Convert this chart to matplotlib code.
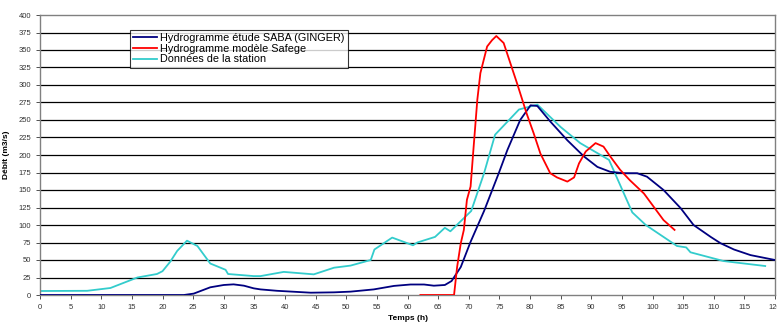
import matplotlib
matplotlib.use("Agg")
import matplotlib.pyplot as plt

plt.rcParams['font.family'] = ['Liberation Sans', 'DejaVu Sans']

# Hydrogramme étude SABA (GINGER)
saba_t = [0, 22, 23.5, 25.1, 27.8, 30, 31.6, 33.3, 34.9, 36, 38.7, 44.2, 48, 50.7, 54.5, 57.8,
          60.5, 62.7, 64.3, 66.1, 67.2, 68.7, 70.3, 72.5, 74.9, 76.3, 78.4, 80.1, 81.2, 83.3,
          86.1, 88.8, 91, 93.1, 95.3, 97.5, 99.1, 101.8, 104.6, 106.7, 109.5, 111.1, 113.3,
          116, 120]
saba_q = [0, 0, 0, 2, 11, 14.3, 15.2, 13.3, 9.5, 8, 6, 3.3, 3.8, 4.8, 8, 13,
          15, 15, 13.3, 14.3, 20, 40, 76, 120, 174, 207, 250, 271, 270, 248,
          221, 198, 183, 176, 174, 174, 169, 150, 124, 100, 83, 74, 65,
          57, 50]

# Hydrogramme modèle Safege
safege_t = [62.1, 67.6, 68.1, 68.7, 69.2, 69.7, 70.3, 70.8, 71.4, 71.9, 73, 73.8, 74.5,
            75.7, 77.9, 79.5, 80.6, 81.7, 83.3, 84.4, 86.1, 87.2, 88, 89.1, 90.7, 92,
            93.1, 94.7, 96.3, 98.6, 100.2, 101.8, 103.6]
safege_q = [0, 0, 40, 74, 93, 136, 155, 212, 279, 317, 355, 364, 370,
            360, 302, 258, 231, 202, 174, 168, 162, 168, 188, 205, 217, 212,
            198, 179, 164, 145, 126, 107, 93]

# Données de la station
station_t = [0, 7.7, 11.5, 15.9, 19.1, 20, 21.3, 22.4, 24, 25.7, 27.8, 30.3, 30.7, 34.9,
             36, 39.8, 44.7, 48, 50.7, 54, 54.6, 57.5, 60.9, 61.6, 64.5, 66.1, 67,
             70.4, 72.5, 74.3, 78.2, 81.2, 85, 88.2, 92.9, 96.7, 98.9, 104, 105.5,
             106.2, 111.6, 118.4]
station_q = [5.7, 6, 10, 25, 30, 34, 48, 63, 77.6, 70, 45, 36, 30, 27,
             27, 33, 29.5, 39, 42, 50, 65, 82, 71, 75, 83, 96, 91,
             120, 174, 229, 265, 272, 240, 217, 193, 118, 100, 70, 68,
             61, 48.5, 41.4]

fig = plt.figure(figsize=(7.77, 3.31), dpi=100)
ax = fig.add_axes([40 / 777, 36 / 331, 735 / 777, 280 / 331])

for y in range(25, 400, 25):
    ax.axhline(y, color='black', linewidth=0.9, zorder=1)

ax.plot(saba_t, saba_q, color='#000080', linewidth=1.3, label='Hydrogramme étude SABA (GINGER)', zorder=3)
ax.plot(safege_t, safege_q, color='#ff0000', linewidth=1.3, label='Hydrogramme modèle Safege', zorder=4)
ax.plot(station_t, station_q, color='#33cccc', linewidth=1.3, label='Données de la station', zorder=2)

ax.set_xlim(0, 120)
ax.set_ylim(0, 400)
ax.set_xticks(range(0, 121, 5))
ax.set_yticks(range(0, 401, 25))
ax.tick_params(labelsize=5.5, length=3, width=0.6, colors='#333333')
for s in ax.spines.values():
    s.set_color('#808080')
    s.set_linewidth(1)

ax.set_xlabel('Temps (h)', fontsize=6, fontweight='bold', labelpad=3)
ax.set_ylabel('Débit (m3/s)', fontsize=6, fontweight='bold', labelpad=6)

leg = ax.legend(loc='upper left', bbox_to_anchor=(90 / 735, 265 / 280), fontsize=7.8,
                frameon=True, fancybox=False, handlelength=2.2, handletextpad=0.3,
                borderpad=0.3, labelspacing=0.05, borderaxespad=0)
leg.get_frame().set_edgecolor('black')
leg.get_frame().set_linewidth(0.8)

fig.savefig('out.png', dpi=100)
